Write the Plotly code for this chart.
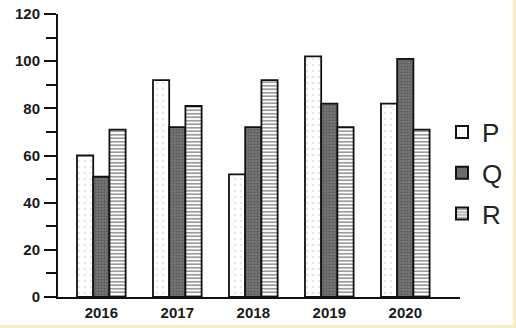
import plotly.graph_objects as go

years = ["2016", "2017", "2018", "2019", "2020"]
p_vals = [60, 92, 52, 102, 82]
q_vals = [51, 72, 72, 82, 101]
r_vals = [71, 81, 92, 72, 71]
y_ticks = [0, 20, 40, 60, 80, 100, 120]

line = dict(color="#111111", width=1.8)

fig = go.Figure()
fig.add_trace(go.Bar(
    name="P", x=years, y=p_vals, legendgroup="p",
    marker=dict(color="white", line=line,
                pattern=dict(shape=".", fgcolor="#cfcfcf", bgcolor="white", size=6, solidity=0.15)),
))
fig.add_trace(go.Bar(
    name="Q", x=years, y=q_vals, legendgroup="q",
    marker=dict(color="#6f6f6f", line=line,
                pattern=dict(shape=".", fgcolor="#404040", bgcolor="#7c7c7c", size=3, solidity=0.5)),
))
fig.add_trace(go.Bar(
    name="R", x=years, y=r_vals, legendgroup="r",
    marker=dict(color="white", line=line,
                pattern=dict(shape="-", fgcolor="#222222", bgcolor="white", size=3.5, solidity=0.45)),
))

tick_font = dict(family="Liberation Sans, Arial, sans-serif", size=15, color="#1a1a1a", weight="bold")

fig.update_layout(
    width=516, height=328,
    margin=dict(l=58, r=56, t=14, b=31, autoexpand=False),
    paper_bgcolor="white", plot_bgcolor="white",
    barmode="group", bargap=0.36, bargroupgap=0.0,
    font=dict(family="Liberation Sans, Arial, sans-serif", color="#222222"),
    showlegend=True,
    legend=dict(xref="container", yref="container", x=442 / 516, xanchor="left",
                y=1 - 173 / 328, yanchor="middle",
                font=dict(size=26, color="#222222"), traceorder="grouped",
                itemsizing="constant", tracegroupgap=4, bgcolor="rgba(0,0,0,0)",
                itemwidth=30),
    xaxis=dict(range=[-0.57, 4.72], showline=True, linecolor="#111111", linewidth=2,
               ticks="", tickfont=tick_font,
               ticklabelstandoff=1, showgrid=False, zeroline=False, fixedrange=True),
    yaxis=dict(range=[0, 120], tickvals=y_ticks, showline=True, linecolor="#111111", linewidth=2,
               ticks="outside", ticklen=12, tickwidth=1.8, tickcolor="#111111",
               minor=dict(dtick=10, ticks="outside", ticklen=10, tickwidth=1.8, tickcolor="#111111"),
               tickfont=tick_font, ticklabelstandoff=1,
               showgrid=False, zeroline=False, fixedrange=True),
)

# scan border (pale yellow) on right and bottom edges
fig.add_shape(type="rect", xref="paper", yref="paper",
              x0=(513 - 58) / 402, x1=(517 - 58) / 402, y0=(297 - 329) / 283, y1=(297 + 2) / 283,
              fillcolor="#f6efc2", line=dict(width=0), layer="below")
fig.add_shape(type="rect", xref="paper", yref="paper",
              x0=(-2 - 58) / 402, x1=(517 - 58) / 402, y0=(297 - 329) / 283, y1=(297 - 325) / 283,
              fillcolor="#f6efc2", line=dict(width=0), layer="below")

fig.write_html("out.html")
